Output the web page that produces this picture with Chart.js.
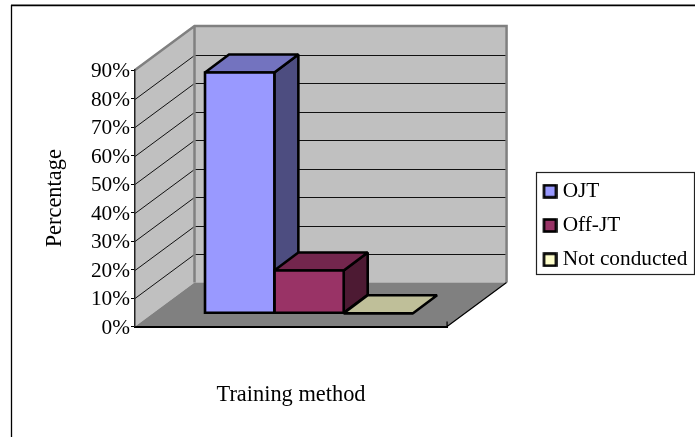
<!DOCTYPE html>
<html>
<head>
<meta charset="utf-8">
<style>html,body{margin:0;padding:0;background:#fff}canvas{display:block}</style>
<script src="https://cdn.jsdelivr.net/npm/chart.js@4"></script>
</head>
<body>
<canvas id="c" width="695" height="437"></canvas>
<script>
// Share of respondents by training method
const categories = [''];
const seriesNames = ['OJT', 'Off-JT', 'Not conducted'];
const ojtValues = [84.5];
const offJtValues = [15];
const notConductedValues = [0];
const frontColors = ['#9999FF', '#993366', '#FFFFCC'];
const topColors = ['#7373BF', '#73264D', '#BFBF99'];
const sideColors = ['#4D4D80', '#4D1A33', '#808066'];
const axisMax = 90;
const axisStep = 10;

const serif = '"Liberation Serif", "Times New Roman", serif';

// Oblique projection offsets: back wall, and the plane the columns stand on
const wallDepth = {x: 59.5, y: -44};
const barPlane = {x: 18, y: -13.2};
const barDepth = {x: 24, y: -18};
const edgeWidth = 2.6;

function poly(ctx, pts, fill, stroke, width) {
  ctx.beginPath();
  pts.forEach((p, i) => i ? ctx.lineTo(p[0], p[1]) : ctx.moveTo(p[0], p[1]));
  ctx.closePath();
  if (fill) { ctx.fillStyle = fill; ctx.fill(); }
  if (stroke) { ctx.strokeStyle = stroke; ctx.lineWidth = width; ctx.stroke(); }
}

// Legend swatch, set off to the right inside its canvas so it sits close to the label
function legendMarker(color) {
  const m = document.createElement('canvas');
  m.width = 20; m.height = 15;
  const g = m.getContext('2d');
  g.fillStyle = color; g.fillRect(6.5, 1.5, 12, 12);
  g.strokeStyle = '#000'; g.lineWidth = 2.6; g.strokeRect(6.5, 1.5, 12, 12);
  return m;
}

function barBox(chart, i) {
  const bar = chart.getDatasetMeta(i).data[0];
  return {x0: bar.x - bar.width / 2, x1: bar.x + bar.width / 2, yt: bar.y, yb: bar.base};
}

const chart3d = {
  id: 'chart3d',
  afterLayout(chart) {
    // park the legend beside the plot, clear of the depth of the floor
    const lg = chart.legend;
    const dx = 530 - lg.left, dy = -28;
    lg.left += dx; lg.right += dx; lg.top += dy; lg.bottom += dy;
  },
  beforeDraw(chart) {
    const {ctx, chartArea: a, scales: {y}} = chart;
    const d = wallDepth;
    ctx.save();
    // outer frame
    ctx.strokeStyle = '#808080'; ctx.lineWidth = 1;
    ctx.beginPath(); ctx.moveTo(11, 4.5); ctx.lineTo(695, 4.5); ctx.stroke();
    ctx.strokeStyle = '#000'; ctx.lineWidth = 1.3;
    ctx.beginPath(); ctx.moveTo(11.5, 437); ctx.lineTo(11.5, 5.6); ctx.lineTo(695, 5.6); ctx.stroke();
    // side wall, back wall, floor
    const t = a.top, b = a.bottom, l = a.left, r = a.right;
    poly(ctx, [[l, t], [l + d.x, t + d.y], [l + d.x, b + d.y], [l, b]], '#C0C0C0');
    poly(ctx, [[l + d.x, t + d.y], [r + d.x, t + d.y], [r + d.x, b + d.y], [l + d.x, b + d.y]], '#C0C0C0');
    poly(ctx, [[l, b], [r, b], [r + d.x, b + d.y], [l + d.x, b + d.y]], '#808080');
    // gridlines wrap from the axis along the side wall and across the back wall
    ctx.strokeStyle = '#111'; ctx.lineWidth = 1;
    y.ticks.forEach(tick => {
      if (tick.value === 0 || tick.value === axisMax) return;
      const py = Math.round(y.getPixelForValue(tick.value)) + 0.5;
      ctx.beginPath();
      ctx.moveTo(l, py);
      ctx.lineTo(l + d.x, py + d.y);
      ctx.lineTo(r + d.x, py + d.y);
      ctx.stroke();
    });
    // wall outlines
    ctx.strokeStyle = '#808080'; ctx.lineWidth = 2.5;
    ctx.beginPath();
    ctx.moveTo(l, t);
    ctx.lineTo(l + d.x, t + d.y);
    ctx.lineTo(r + d.x, t + d.y);
    ctx.lineTo(r + d.x, b + d.y);
    ctx.moveTo(l + d.x, t + d.y);
    ctx.lineTo(l + d.x, b + d.y);
    ctx.stroke();
    // floor's front-right edge and end tick
    ctx.strokeStyle = '#000'; ctx.lineWidth = 1.2;
    ctx.beginPath();
    ctx.moveTo(r, b); ctx.lineTo(r + d.x, b + d.y);
    ctx.moveTo(r, b); ctx.lineTo(r, b - 5);
    ctx.stroke();
    ctx.restore();
  },
  beforeDatasetsDraw(chart) {
    const {ctx} = chart;
    const d = barDepth;
    ctx.save();
    ctx.translate(barPlane.x, barPlane.y);
    ctx.lineJoin = 'miter';
    ctx.miterLimit = 2;
    // depth faces go first, left to right, so nearer tops overlap the column behind
    chart.data.datasets.forEach((ds, i) => {
      const {x0, x1, yt, yb} = barBox(chart, i);
      if (yb > yt) {
        poly(ctx, [[x1, yt], [x1 + d.x, yt + d.y], [x1 + d.x, yb + d.y], [x1, yb]], sideColors[i], '#000', edgeWidth);
      }
      poly(ctx, [[x0, yt], [x1, yt], [x1 + d.x, yt + d.y], [x0 + d.x, yt + d.y]], topColors[i], '#000', edgeWidth);
    });
  },
  afterDatasetsDraw(chart) {
    const {ctx} = chart;
    chart.data.datasets.forEach((ds, i) => {
      const {x0, x1, yt, yb} = barBox(chart, i);
      poly(ctx, [[x0, yt], [x1, yt], [x1, yb], [x0, yb]], null, '#000', edgeWidth);
    });
    ctx.restore();
  },
  afterDraw(chart) {
    // legend frame
    const {ctx} = chart;
    ctx.save();
    ctx.strokeStyle = '#222'; ctx.lineWidth = 1.2;
    ctx.strokeRect(536.5, 172.5, 158, 102);
    ctx.restore();
  }
};

new Chart(document.getElementById('c'), {
  type: 'bar',
  data: {
    labels: categories,
    datasets: [ojtValues, offJtValues, notConductedValues].map((values, i) => ({
      label: seriesNames[i],
      data: values,
      backgroundColor: frontColors[i],
      borderWidth: 0,
      categoryPercentage: 2 / 3,
      barPercentage: 1
    }))
  },
  plugins: [chart3d],
  options: {
    responsive: false,
    animation: false,
    events: [],
    layout: {padding: {top: 70, right: 0, bottom: 0, left: 0}},
    plugins: {
      tooltip: {enabled: false},
      legend: {
        position: 'right',
        maxWidth: 170,
        labels: {
          color: '#000',
          font: {family: serif, size: 21.3},
          usePointStyle: true,
          pointStyleWidth: 9,
          boxHeight: 15,
          padding: 13,
          generateLabels: chart => chart.data.datasets.map((ds, i) => ({
            text: ds.label,
            fillStyle: frontColors[i],
            strokeStyle: '#000',
            lineWidth: 0,
            pointStyle: legendMarker(frontColors[i]),
            datasetIndex: i
          }))
        }
      }
    },
    scales: {
      x: {
        grid: {display: false},
        ticks: {display: false},
        border: {display: true, color: '#000', width: 2},
        afterFit: s => { s.height = 110.5; },
        title: {
          display: true,
          text: 'Training method',
          color: '#000',
          font: {family: serif, size: 22.4},
          padding: {top: 0, bottom: 28}
        }
      },
      y: {
        min: 0,
        max: axisMax,
        ticks: {
          stepSize: axisStep,
          autoSkip: false,
          color: '#000',
          font: {family: serif, size: 21.3},
          padding: 1,
          labelOffset: 1.5,
          callback: v => v + '%'
        },
        grid: {drawOnChartArea: false, color: '#000', tickLength: 4, lineWidth: 1},
        border: {display: true, color: '#222', width: 1.5},
        afterFit: s => { s.width = 135; },
        title: {
          display: true,
          text: 'Percentage',
          color: '#000',
          font: {family: serif, size: 22.4},
          padding: {top: 42, bottom: 0}
        }
      },
      gap: {
        position: 'right',
        display: true,
        grid: {display: false},
        border: {display: false},
        ticks: {display: false},
        afterFit: s => { s.width = 80.5; }
      }
    }
  }
});
</script>
</body>
</html>
